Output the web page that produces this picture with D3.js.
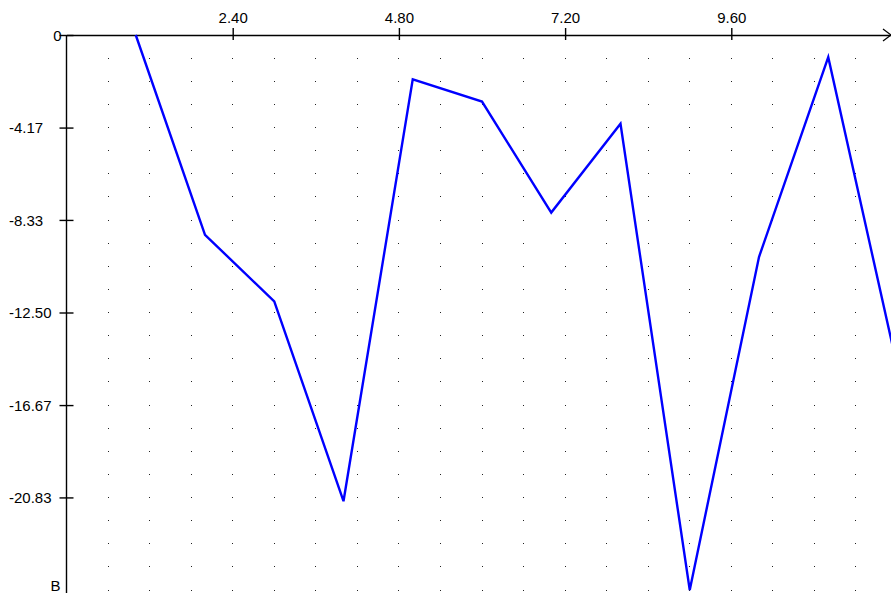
<!DOCTYPE html>
<html>
<head>
    <meta charset="utf-8">
    <title>Line chart</title>
    <style>
        body { margin: 0; background: #fff; }
        svg text { font-family: "Liberation Sans", Arial, sans-serif; font-size: 15px; fill: #000; }
    </style>
</head>
<body>
    <div id="chart"></div>

    <script src="https://d3js.org/d3.v7.min.js"></script>
    <script>
var xValues = [1, 2, 3, 4, 5, 6, 7, 8, 9, 10, 11, 12];
var yValues = [0, -9, -12, -21, -2, -3, -8, -4, -25, -10, -1, -15];

var xTicks = [2.4, 4.8, 7.2, 9.6];
var xTickLabels = ["2.40", "4.80", "7.20", "9.60"];
var yTicks = [0, -4.17, -8.33, -12.5, -16.67, -20.83];
var yTickLabels = ["0", "-4.17", "-8.33", "-12.50", "-16.67", "-20.83"];
var yAxisName = "B";

var width = 891;
var height = 593;
var fontStyle = '"Liberation Sans", Arial, sans-serif';

var x = d3.scaleLinear()
    .domain([0, 12])
    .range([66.5, 897.5]);

var y = d3.scaleLinear()
    .domain([0, -25])
    .range([35, 590]);

var svg = d3.select('#chart')
    .append('svg')
    .attr('width', width)
    .attr('height', height);

// dotted grid
var gx = d3.range(1, 20).map(function(i) { return i * 0.6; });
var gy = d3.range(1, 25).map(function(i) { return -i * 25 / 24; });
var dots = [];
gx.forEach(function(a) { gy.forEach(function(b) { dots.push([a, b]); }); });

svg.append('g')
    .selectAll('rect')
    .data(dots)
    .enter()
    .append('rect')
    .attr('x', function(d) { return Math.floor(x(d[0])); })
    .attr('y', function(d) { return Math.floor(y(d[1])); })
    .attr('width', 1)
    .attr('height', 1)
    .attr('fill', '#222');

// x axis on top
var xAxis = svg.append('g')
    .attr('transform', 'translate(0,' + y(0) + ')')
    .call(d3.axisTop(x)
        .tickValues(xTicks)
        .tickFormat(function(d, i) { return xTickLabels[i]; })
        .tickSize(7)
        .tickSizeOuter(0));
xAxis.select('.domain').attr('stroke', '#000').attr('stroke-width', 1.4);
xAxis.selectAll('.tick line').attr('y1', 5).attr('stroke-width', 1.4);
xAxis.selectAll('.tick text')
    .attr('y', -12)
    .attr('dy', 0)
    .style('font-size', '15px')
    .style('font-family', fontStyle);

// arrow at the end of x axis
svg.append('path')
    .attr('d', 'M883,29 L891,35 L883,41')
    .attr('fill', 'none')
    .attr('stroke', '#000')
    .attr('stroke-width', 1.2);

// y axis on left
var yAxis = svg.append('g')
    .attr('transform', 'translate(' + x(0) + ',0)')
    .call(d3.axisLeft(y)
        .tickValues(yTicks)
        .tickFormat(function(d, i) { return yTickLabels[i]; })
        .tickSize(7)
        .tickSizeOuter(0));
yAxis.select('.domain').remove();
yAxis.selectAll('.tick line').attr('x1', 7).attr('stroke-width', 1.4);
yAxis.selectAll('.tick text')
    .style('font-size', '15px')
    .style('font-family', fontStyle)
    .attr('dy', '0.36em')
    .attr('text-anchor', function(d, i) { return i === 0 ? 'end' : 'start'; })
    .attr('x', function(d, i) { return i === 0 ? -5 : 9 - x(0); });

svg.append('line')
    .attr('x1', x(0)).attr('x2', x(0))
    .attr('y1', y(0)).attr('y2', height)
    .attr('stroke', '#000')
    .attr('stroke-width', 1.4);

svg.append('text')
    .attr('x', x(0) - 6)
    .attr('y', 591)
    .attr('text-anchor', 'end')
    .text(yAxisName);

// data line
var line = d3.line()
    .x(function(d, i) { return x(xValues[i]); })
    .y(function(d) { return y(d); });

svg.append('path')
    .datum(yValues)
    .attr('d', line)
    .attr('fill', 'none')
    .attr('stroke', '#0000ff')
    .attr('stroke-width', 2.4)
    .attr('stroke-linejoin', 'miter');
    </script>
</body>
</html>
